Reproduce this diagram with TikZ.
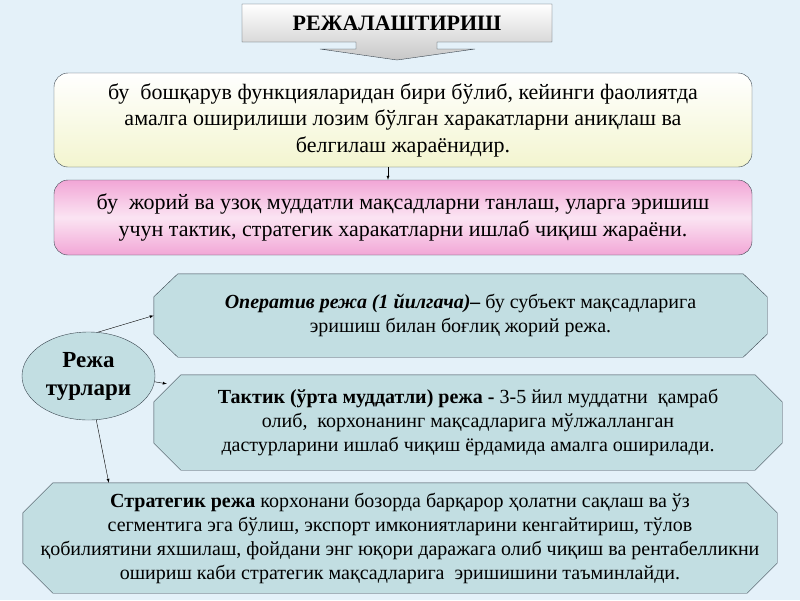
\documentclass[tikz,border=0pt]{standalone}
\usepackage{fontspec}
\setmainfont{Liberation Serif}
\usetikzlibrary{arrows, shapes.geometric, backgrounds, positioning}
\definecolor{backblue}{HTML}{E4F1F9}
\definecolor{lineslate}{HTML}{3A4650}
\definecolor{paleyellow}{HTML}{F3F5CF}
\definecolor{rosepink}{HTML}{F2A6D6}
\definecolor{tealgrey}{HTML}{C2DEE2}
% outline with cut corners round a node: node, cut in x, cut in y
\newcommand{\cutcorners}[3]{%
    \draw[lineslate, fill=tealgrey]
    ([xshift=#2]#1.north west) -- ([xshift=-#2]#1.north east)
    -- ([yshift=-#3]#1.north east) -- ([yshift=#3]#1.south east)
    -- ([xshift=-#2]#1.south east) -- ([xshift=#2]#1.south west)
    -- ([yshift=#3]#1.south west) -- ([yshift=-#3]#1.north west) -- cycle;}

\begin{document}
\begin{tikzpicture}[x=1pt, y=-1pt, >=latex,
    planbox/.style={draw=lineslate, rounded corners=14pt, minimum width=698pt,
        align=center, font=\fontsize{22}{26.5}\selectfont},
    kindbox/.style={align=center, font=\fontsize{20}{24}\selectfont}]
                        \useasboundingbox (0, 0) rectangle (800, 600);
                        % heading with its arrow
                        \draw[lineslate, top color=white, bottom color=black!22]
                        (242, 4) -- (552, 4) -- (552, 42) -- (437, 42) -- (437, 49)
                        -- (475, 49) -- (397, 60) -- (320, 49) -- (356, 49)
                        -- (356, 42) -- (242, 42) -- cycle;
                        \node (heading) at (397, 23)
                        {\fontsize{22}{24}\selectfont\bfseries РЕЖАЛАШТИРИШ};
                        % the two definitions
                        \node[planbox, minimum height=94pt, top color=white, bottom color=paleyellow]
                        (define) at (403, 120)
                        {бу~ бошқарув функцияларидан бири бўлиб, кейинги фаолиятда\\
                        амалга оширилиши лозим бўлган харакатларни аниқлаш ва\\
                        белгилаш жараёнидир.};
                        \node[planbox, minimum height=75pt, top color=rosepink, bottom color=rosepink,
                        middle color=rosepink!30!white]
                        (choose) at (403, 217.5)
                        {бу~ жорий ва узоқ муддатли мақсадларни танлаш, уларга эришиш\\
                        учун тактик, стратегик харакатларни ишлаб чиқиш жараёни.};
                        % kinds of plan
                        \node[ellipse, draw=lineslate, fill=tealgrey, minimum width=133pt,
                        minimum height=88pt, align=center, font=\fontsize{23}{28}\selectfont\bfseries]
                        (kinds) at (88.5, 376) {Режа\\турлари};
                        \node[kindbox, minimum width=613pt, minimum height=83pt]
                        (operative) at (460.5, 315.5)
                        {\textbf{\textit{Оператив режа (1 йилгача)–}} бу субъект мақсадларига\\
                        эришиш билан боғлиқ жорий режа.};
                        \node[kindbox, minimum width=628pt, minimum height=95pt]
                        (tactic) at (468, 422.5)
                        {\textbf{Тактик (ўрта муддатли) режа -} 3-5 йил муддатни~ қамраб\\
                        олиб,~ корхонанинг мақсадларига мўлжалланган\\
                        дастурларини ишлаб чиқиш ёрдамида амалга оширилади.};
                        \node[kindbox, minimum width=754pt, minimum height=110pt]
                        (strategic) at (400, 538)
                        {\textbf{Стратегик режа} корхонани бозорда барқарор ҳолатни сақлаш ва ўз\\
                        сегментига эга бўлиш, экспорт имкониятларини кенгайтириш, тўлов\\
                        қобилиятини яхшилаш, фойдани энг юқори даражага олиб чиқиш ва рентабелликни\\
                        ошириш каби стратегик мақсадларига~ эришишини таъминлайди.};
                        \begin{scope}[on background layer]
                        \fill[backblue] (0, 0) rectangle (800, 600);
                        \cutcorners{operative}{24pt}{23pt}
                        \cutcorners{tactic}{27pt}{27pt}
                        \cutcorners{strategic}{30pt}{30pt}
                        \end{scope}
                        % connectors
                        \draw
                        ([xshift=-15pt]define.south) edge[->] ([xshift=-15pt]choose.north)
                        (kinds.78) edge[->] (operative.west)
                        (kinds.-5) edge[->] ([xshift=13pt, yshift=-9pt]tactic.north west)
                        (kinds.-80) edge[->] ([xshift=86pt]strategic.north west);
                    \end{tikzpicture}
\end{document}
